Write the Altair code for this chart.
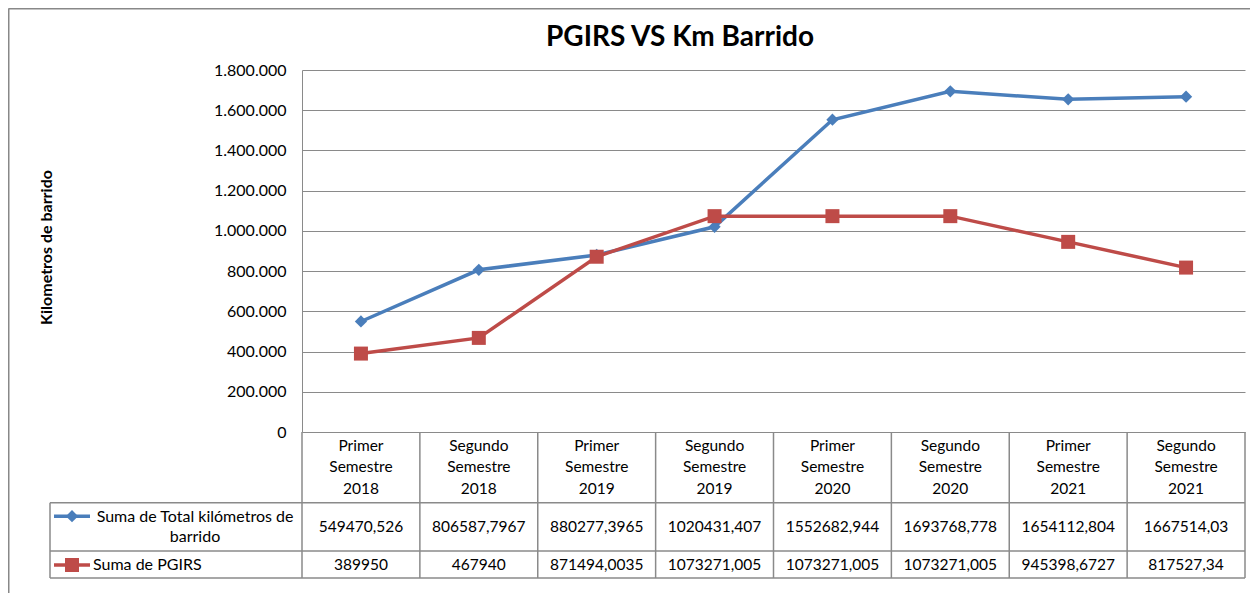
import altair as alt
import pandas as pd

# ---------------- data ----------------
categories = [
    "Primer\nSemestre\n2018", "Segundo\nSemestre\n2018",
    "Primer\nSemestre\n2019", "Segundo\nSemestre\n2019",
    "Primer\nSemestre\n2020", "Segundo\nSemestre\n2020",
    "Primer\nSemestre\n2021", "Segundo\nSemestre\n2021",
]
series_names = ["Suma de Total kilómetros de barrido", "Suma de PGIRS"]
total_km = [549470.526, 806587.7967, 880277.3965, 1020431.407,
            1552682.944, 1693768.778, 1654112.804, 1667514.03]
pgirs = [389950, 467940, 871494.0035, 1073271.005,
         1073271.005, 1073271.005, 945398.6727, 817527.34]
total_km_labels = ["549470,526", "806587,7967", "880277,3965", "1020431,407",
                   "1552682,944", "1693768,778", "1654112,804", "1667514,03"]
pgirs_labels = ["389950", "467940", "871494,0035", "1073271,005",
                "1073271,005", "1073271,005", "945398,6727", "817527,34"]
y_ticks = [0, 200000, 400000, 600000, 800000, 1000000,
           1200000, 1400000, 1600000, 1800000]
chart_title = "PGIRS VS Km Barrido"
y_title = "Kilometros de barrido"

# ---------------- style ----------------
BLUE = "#4A7EBB"
RED = "#BE4B48"
GRID = "#8A8A8A"
FONT = "Lato"
TFS = 15.5
W, H = 943, 362

n = len(categories)
idx = list(range(n))

df_blue = pd.DataFrame({"idx": idx, "value": total_km, "label": total_km_labels})
df_red = pd.DataFrame({"idx": idx, "value": pgirs, "label": pgirs_labels})
df_cat = pd.DataFrame({"idx": idx, "cat": categories})
df_bounds = pd.DataFrame({"idx": [i - 0.5 for i in range(n + 1)]})
df_leg1 = pd.DataFrame({"name": ["Suma de Total kilómetros de\nbarrido"]})
df_leg2 = pd.DataFrame({"name": [series_names[1]]})
df_title = pd.DataFrame({"t": [chart_title]})
one = pd.DataFrame({"a": [0]})

xs = alt.Scale(domain=[-0.5, n - 0.5], nice=False, zero=False)
ys = alt.Scale(domain=[0, y_ticks[-1]], nice=False)
X = alt.X("idx:Q", scale=xs, axis=None)

yaxis = alt.Axis(
    values=y_ticks, ticks=False,
    labelExpr="replace(replace(format(datum.value, ',.0f'), ',', '.'), ',', '.')",
    labelFont=FONT, labelFontSize=16, labelColor="black", labelPadding=16,
    domainColor=GRID, domainWidth=1, gridColor=GRID, gridWidth=1,
    title=y_title, titleFont=FONT, titleFontSize=16, titleFontWeight="bold",
    titleColor="black", titleAngle=-90, titleX=-256, titleY=H / 2 - 4,
    titleAlign="center", titleBaseline="middle",
)
Y = alt.Y("value:Q", scale=ys, axis=yaxis)


def series_layers(df, color, shape, size):
    line = alt.Chart(df).mark_line(color=color, strokeWidth=3.5).encode(x=X, y=Y)
    pts = alt.Chart(df).mark_point(
        shape=shape, filled=True, color=color, size=size, opacity=1
    ).encode(x=X, y=Y)
    return [line, pts]


def hrule(y, x0, x1, color=GRID, w=1.5):
    return alt.Chart(one).mark_rule(color=color, strokeWidth=w).encode(
        x=alt.value(x0), x2=alt.value(x1), y=alt.value(y)
    )


def vrule(x, y0, y1, color=GRID, w=1.5):
    return alt.Chart(one).mark_rule(color=color, strokeWidth=w).encode(
        x=alt.value(x), y=alt.value(y0), y2=alt.value(y1)
    )


ROW1_TOP, ROW2_TOP, TABLE_BOTTOM = 432.7, 481, 508
TABLE_LEFT = -252

table_vlines = alt.Chart(df_bounds).mark_rule(color=GRID, strokeWidth=1.5).encode(
    x=X, y=alt.value(H), y2=alt.value(TABLE_BOTTOM)
)

header_text = alt.Chart(df_cat).mark_text(
    font=FONT, fontSize=TFS, lineBreak="\n", lineHeight=21.2,
    baseline="middle", align="center", color="black"
).encode(x=X, y=alt.value(376.2), text="cat:N")

row1_text = alt.Chart(df_blue).mark_text(
    font=FONT, fontSize=TFS, baseline="middle", align="center", color="black"
).encode(x=X, y=alt.value(456.7), text="label:N")

row2_text = alt.Chart(df_red).mark_text(
    font=FONT, fontSize=TFS, baseline="middle", align="center", color="black"
).encode(x=X, y=alt.value(495), text="label:N")

leg1_text = alt.Chart(df_leg1).mark_text(
    font=FONT, fontSize=16, lineBreak="\n", lineHeight=20,
    baseline="middle", align="center", color="black"
).encode(x=alt.value(-107), y=alt.value(446.5), text="name:N")
leg2_text = alt.Chart(df_leg2).mark_text(
    font=FONT, fontSize=16, baseline="middle", align="left", color="black"
).encode(x=alt.value(-209), y=alt.value(495), text="name:N")

leg1_line = alt.Chart(one).mark_rule(color=BLUE, strokeWidth=3.5).encode(
    x=alt.value(-248), x2=alt.value(-212), y=alt.value(446.2))
leg1_pt = alt.Chart(one).mark_point(shape="diamond", filled=True, color=BLUE,
                                    size=150, opacity=1).encode(
    x=alt.value(-230), y=alt.value(446.2))
leg2_line = alt.Chart(one).mark_rule(color=RED, strokeWidth=3.5).encode(
    x=alt.value(-248), x2=alt.value(-212), y=alt.value(495))
leg2_pt = alt.Chart(one).mark_point(shape="square", filled=True, color=RED,
                                    size=196, opacity=1).encode(
    x=alt.value(-230), y=alt.value(495))

title_text = alt.Chart(df_title).mark_text(
    font=FONT, fontSize=28, fontWeight="bold", align="center",
    baseline="middle", color="black"
).encode(x=alt.value(378), y=alt.value(-32), text="t:N")

frame = [
    vrule(-293.5, -61.5, 700, color="#888888", w=2),
    hrule(-61.5, -293.5, 1200, color="#888888", w=2),
]

layers = (
    frame
    + [hrule(ROW1_TOP, TABLE_LEFT, W), hrule(ROW2_TOP, TABLE_LEFT, W),
       hrule(TABLE_BOTTOM, TABLE_LEFT, W),
       vrule(TABLE_LEFT, ROW1_TOP, TABLE_BOTTOM), table_vlines]
    + series_layers(df_blue, BLUE, "diamond", 150)
    + series_layers(df_red, RED, "square", 196)
    + [header_text, row1_text, row2_text, leg1_text, leg2_text,
       leg1_line, leg1_pt, leg2_line, leg2_pt, title_text]
)

chart = alt.layer(*layers).properties(
    width=W, height=H,
    autosize=alt.AutoSizeParams(type="none"),
    padding={"left": 294, "top": 62, "right": 5, "bottom": 161},
).configure_view(stroke=None)

chart.save("out.html", embed_options={"renderer": "svg", "actions": False})
